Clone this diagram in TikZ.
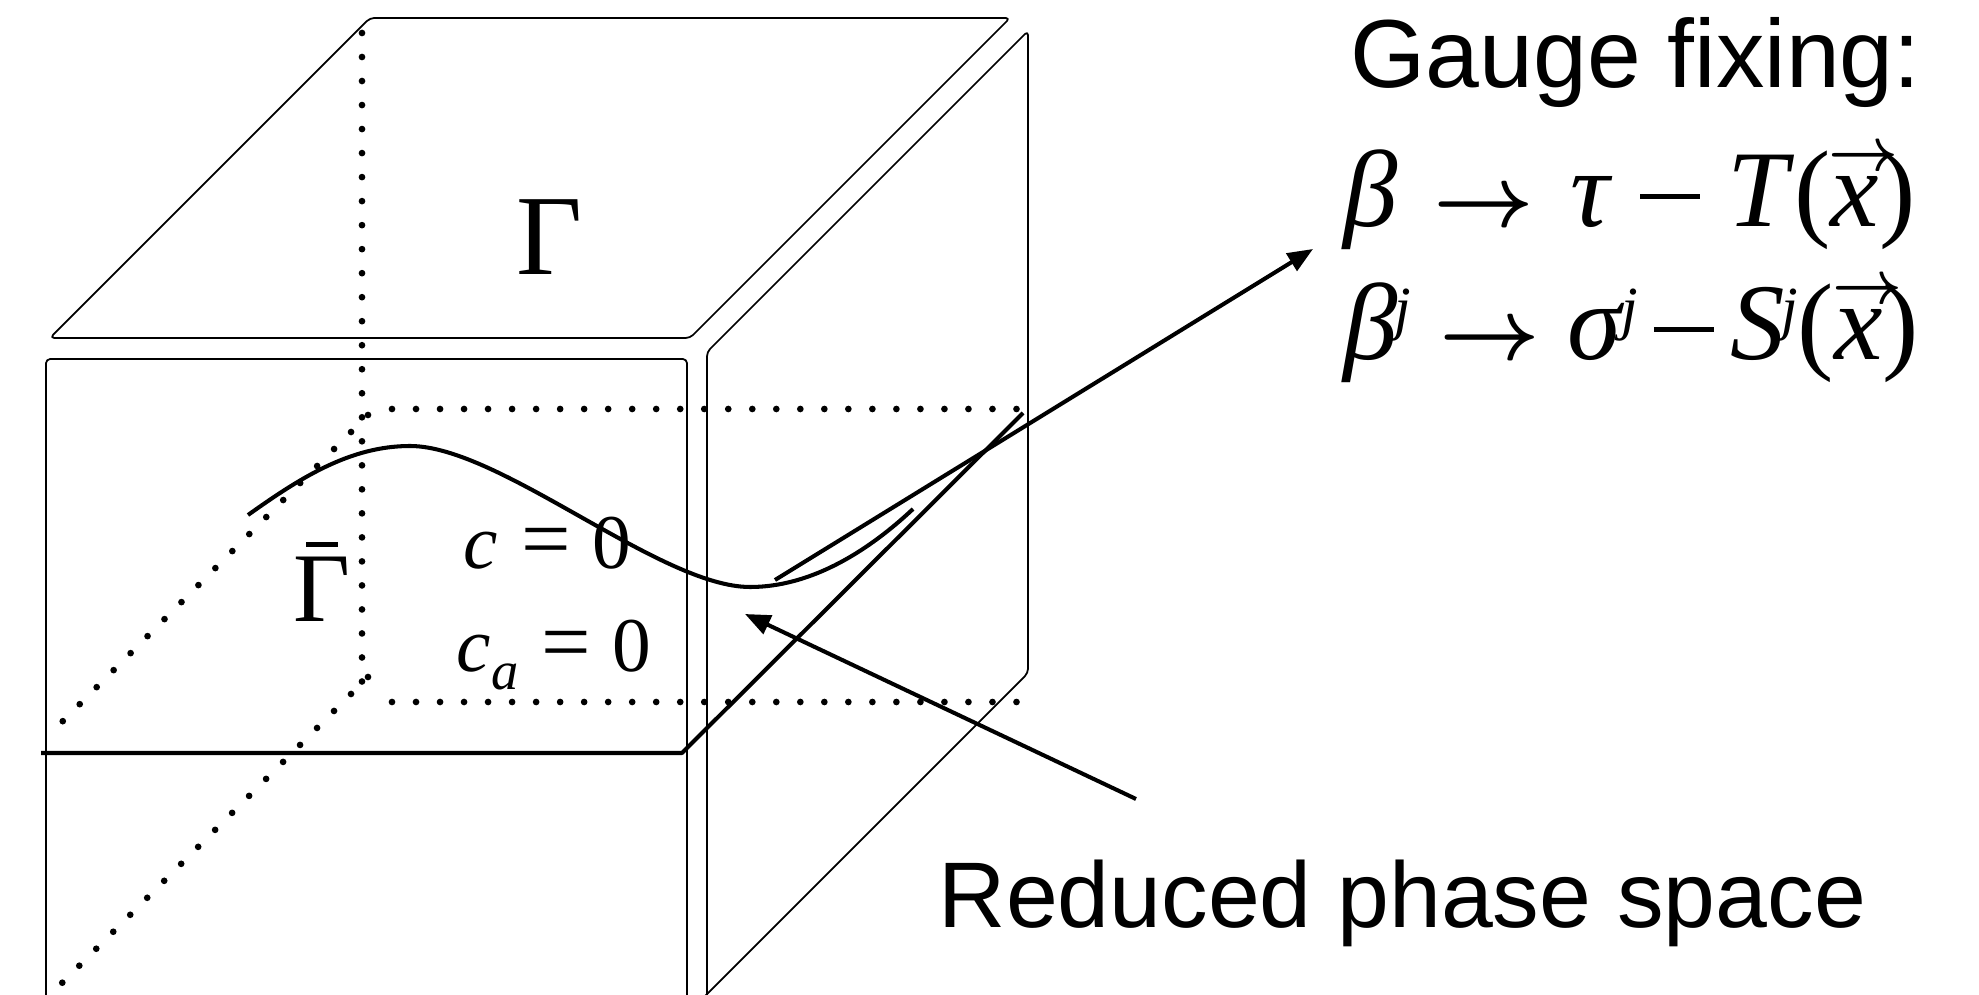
\documentclass[tikz,border=0pt]{standalone}
\usepackage{fontspec}
\setmainfont{Liberation Serif}
\setsansfont{Liberation Sans}
\usetikzlibrary{arrows.meta, positioning}

% pieces of the gauge formulas
\newcommand{\vx}{\ooalign{\itshape x\cr\hidewidth\hspace{5pt}\raisebox{16pt}{\fontsize{17}{17}\selectfont\boldmath$\rightarrow$}\hidewidth\cr}}
\newcommand{\upj}{\hspace{-1pt}\raisebox{9pt}{\fontsize{17}{17}\selectfont\itshape j}}
\newcommand{\arr}{{\fontsize{25}{25}\selectfont\boldmath$\rightarrow$}}
\newcommand{\mns}{\rule[0.26em]{0.55em}{0.045em}}

\begin{document}
\begin{tikzpicture}[x=0.01cm, y=-0.01cm, line join=round,
    face/.style = {draw, line width=0.5pt, rounded corners=1.2pt},
    back/.style = {line width=1.9pt, line cap=round, dash pattern=on 0pt off 6.83pt},
    bold/.style = {line width=1.15pt},
    tip/.style = {bold, -{Triangle[length=7.2pt, width=5.7pt]}},
    lbl/.style = {inner sep=0pt, anchor=base west},
    eqn/.style = {lbl, font=\fontsize{31}{31}\selectfont}]
    \useasboundingbox (0,0) rectangle (1979,995);
    \clip (0,0) rectangle (1979,995);
    % box: top, front and side faces
    \draw[face] (370,18) -- (1010,18) -- (690,338) -- (50,338) -- cycle;
    \draw[face] (46,1010) -- (46,359) -- (687,359) -- (687,1010);
    \draw[face] (707,1010) -- (707,352) -- (1028,31) -- (1028,673) -- (692,1009);
    % hidden edges
    \draw[back] (362,33) -- (362,682);
    \draw[back] (392,409) -- (1040,409); \draw[back] (392,702) -- (1040,702);
    \draw[back] (368,415) -- (46,738); \draw[back] (368,677) -- (46,999);
    % constraint surface and cut
    \draw[bold] (41,753) -- (682,753) -- (1023,413);
    \draw[bold] (248,515) .. controls (300,478) and (350,446) .. (410,446)
      .. controls (500,446) and (660,587) .. (750,587)
      .. controls (820,587) and (880,540) .. (913,509);
    % labels
    \node[lbl, font=\fontsize{32.5}{32.5}\selectfont] (gam) at (516,275) {Γ};
    \node[lbl, font=\fontsize{28}{28}\selectfont] (gamBar) at (293,622) {\ooalign{Γ\cr\hidewidth\rule[0.76em]{0.32em}{0.055em}\hidewidth\cr}};
    \node[lbl, font=\fontsize{22}{22}\selectfont] (cZero) at (463,569) {\textit{c}\hspace{.3em}{\fontsize{25}{25}\selectfont=}\hspace{.28em}0};
    \node[lbl, font=\fontsize{22}{22}\selectfont] (caZero) at (456,672) {\textit{c}\raisebox{-5pt}{\fontsize{15.5}{15.5}\selectfont\itshape a}\hspace{.3em}{\fontsize{25}{25}\selectfont=}\hspace{.28em}0};
    \node[lbl, font=\sffamily\fontsize{27.5}{27.5}\selectfont] (gauge) at (1350,88) {Gauge fixing:};
    \node[eqn] (eqA) at (1343,227) {\textit{β}\hspace{.33em}\arr\hspace{.33em}\textit{τ}\hspace{.25em}\mns\hspace{.25em}\textit{T}(\vx)};
    \node[eqn] (eqB) at (1343,360) {\textit{β}\upj\hspace{.26em}\arr\hspace{.25em}\textit{σ}\upj\hspace{.15em}\mns\hspace{.15em}\textit{S}\upj(\vx)};
    \node[lbl, font=\sffamily\fontsize{26.5}{26.5}\selectfont] (rps) at (938,928) {Reduced phase space};
    % arrows
    \coordinate (gfStart) at (775,580); \coordinate (gfEnd) at (1313,249);
    \coordinate (rpsTail) at (1136,799); \coordinate (rpsTip) at (745,614);
    \draw[tip] (gfStart) -- (gfEnd);
    \draw[tip] (rpsTail) -- (rpsTip);
\end{tikzpicture}
\end{document}
